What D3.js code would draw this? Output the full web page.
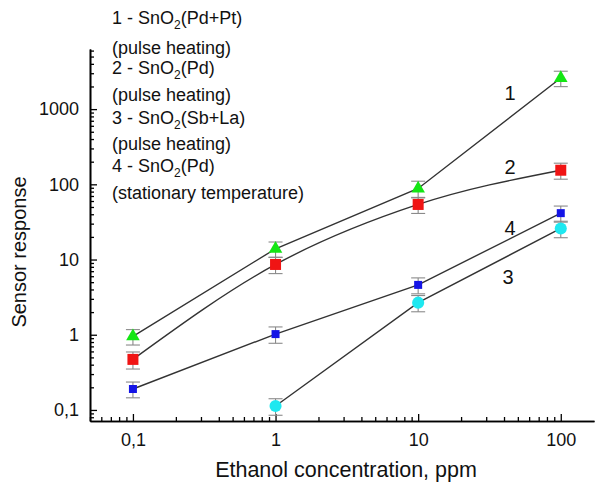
<!DOCTYPE html>
<html>
<head>
<meta charset="utf-8">
<script src="https://cdn.jsdelivr.net/npm/d3@7"></script>
<style>
  body { margin: 0; background: #fff; }
  text { font-family: "Liberation Sans", Arial, sans-serif; fill: #111; }
</style>
</head>
<body>
<div class="canvas"></div>
<script>
// data
const concentrations = [0.1, 1, 10, 100];
const series1 = [0.95, 13.9, 88, 2590];
const errors1 = [0.22, 3.2, 22, 600];
const series2 = [0.47, 8.6, 54, 154];
const errors2 = [0.12, 2.1, 13, 37];
const series3 = [null, 0.113, 2.67, 25.9];
const errors3 = [null, 0.028, 0.65, 6.4];
const series4 = [0.19, 1.02, 4.6, 41.4];
const errors4 = [0.045, 0.25, 1.1, 10];

const xTickValues = [0.1, 1, 10, 100];
const xTickLabels = ['0,1', '1', '10', '100'];
const yTickValues = [0.1, 1, 10, 100, 1000];
const yTickLabels = ['0,1', '1', '10', '100', '1000'];

const legendLines = [
    ['1 - SnO', '2', '(Pd+Pt)'],
    ['(pulse heating)'],
    ['2 - SnO', '2', '(Pd)'],
    ['(pulse heating)'],
    ['3 - SnO', '2', '(Sb+La)'],
    ['(pulse heating)'],
    ['4 - SnO', '2', '(Pd)'],
    ['(stationary temperature)']
];

const W = 595, H = 482;
const svg = d3.select('.canvas').append('svg')
    .attr('width', W)
    .attr('height', H);

const plot = { left: 90, right: 594, top: 49, bottom: 421 };

// scales
const x = d3.scaleLog().domain([0.05, 171]).range([plot.left, plot.right]);
const y = d3.scaleLog().domain([0.0713, 6300]).range([plot.bottom, plot.top]);

// minor tick values (2..9 of every decade inside the domain)
const minorTicks = (scale) => {
    const [a, b] = scale.domain();
    const out = [];
    for (let e = -3; e <= 4; e++) {
        for (let m = 2; m <= 9; m++) {
            const v = m * Math.pow(10, e);
            if (v >= a && v <= b) out.push(v);
        }
    }
    return out;
};

// axes, ticks pointing inwards
const xAxis = d3.axisBottom(x).tickValues(xTickValues)
    .tickFormat((d, i) => xTickLabels[i]).tickSizeInner(-7).tickSizeOuter(0).tickPadding(12);
const xMinor = d3.axisBottom(x).tickValues(minorTicks(x))
    .tickFormat('').tickSizeInner(-4).tickSizeOuter(0);
const yAxis = d3.axisLeft(y).tickValues(yTickValues)
    .tickFormat((d, i) => yTickLabels[i]).tickSizeInner(-7).tickSizeOuter(0).tickPadding(11);
const yMinor = d3.axisLeft(y).tickValues(minorTicks(y))
    .tickFormat('').tickSizeInner(-4).tickSizeOuter(0);

const xAxisGroup = svg.append('g').attr('transform', `translate(0,${plot.bottom})`);
xAxisGroup.call(xMinor);
xAxisGroup.append('g').call(xAxis);
const yAxisGroup = svg.append('g').attr('transform', `translate(${plot.left},0)`);
yAxisGroup.call(yMinor);
yAxisGroup.append('g').call(yAxis);

svg.selectAll('.domain').attr('stroke', '#000').attr('stroke-width', 1.6);
svg.selectAll('.tick line').attr('stroke', '#000').attr('stroke-width', 1.3);
svg.selectAll('.tick text').attr('font-size', 18).attr('fill', '#111')
    .attr('font-family', '"Liberation Sans", Arial, sans-serif');

// axis titles
svg.append('text')
    .attr('x', 346).attr('y', 477)
    .attr('text-anchor', 'middle')
    .attr('font-size', 21.5)
    .text('Ethanol concentration, ppm');
svg.append('text')
    .attr('transform', 'translate(26,252) rotate(-90)')
    .attr('text-anchor', 'middle')
    .attr('font-size', 20)
    .text('Sensor response');

// series
const series = [
    { values: series1, errors: errors1, symbol: d3.symbolTriangle, size: 80, color: '#14e614', curve: d3.curveLinear, label: '1', lx: 510, ly: 100 },
    { values: series2, errors: errors2, symbol: d3.symbolSquare, size: 121, color: '#f01414', curve: d3.curveMonotoneX, label: '2', lx: 510, ly: 174 },
    { values: series3, errors: errors3, symbol: d3.symbolCircle, size: 115, color: '#1ee8f0', curve: d3.curveLinear, label: '3', lx: 508, ly: 284 },
    { values: series4, errors: errors4, symbol: d3.symbolSquare, size: 64, color: '#1414e6', curve: d3.curveLinear, label: '4', lx: 510, ly: 235 }
];

series.forEach(s => {
    const pts = concentrations.map((c, i) => ({ c: c, v: s.values[i], e: s.errors[i] }))
        .filter(d => d.v != null);
    s.pts = pts;
    const line = d3.line()
        .x(d => x(d.c))
        .y(d => y(d.v))
        .curve(s.curve);
    svg.append('path')
        .attr('d', line(pts))
        .attr('fill', 'none')
        .attr('stroke', '#333')
        .attr('stroke-width', 1.4);
});

// error bars
series.forEach(s => {
    const g = svg.append('g').attr('stroke', '#8a8a8a').attr('stroke-width', 1.1);
    s.pts.forEach(d => {
        const cx = x(d.c);
        const y1 = y(d.v + d.e), y2 = y(d.v - d.e);
        g.append('line').attr('x1', cx).attr('x2', cx).attr('y1', y1).attr('y2', y2);
        g.append('line').attr('x1', cx - 7).attr('x2', cx + 7).attr('y1', y1).attr('y2', y1);
        g.append('line').attr('x1', cx - 7).attr('x2', cx + 7).attr('y1', y2).attr('y2', y2);
    });
});

// markers and curve numbers
series.forEach(s => {
    svg.append('g').selectAll('path')
        .data(s.pts)
        .enter().append('path')
        .attr('d', d3.symbol().type(s.symbol).size(s.size))
        .attr('transform', d => `translate(${x(d.c)},${y(d.v)})`)
        .attr('fill', s.color);
    svg.append('text')
        .attr('x', s.lx).attr('y', s.ly)
        .attr('text-anchor', 'middle')
        .attr('font-size', 20)
        .text(s.label);
});

// legend text
const legendY = [24, 54, 74, 101, 124, 150, 172, 199];
legendLines.forEach((parts, i) => {
    const t = svg.append('text')
        .attr('x', 112).attr('y', legendY[i])
        .attr('font-size', 18);
    t.append('tspan').text(parts[0]);
    if (parts.length > 1) {
        t.append('tspan').attr('dy', 5).attr('font-size', 12).text(parts[1]);
        t.append('tspan').attr('dy', -5).text(parts[2]);
    }
});
</script>
</body>
</html>
